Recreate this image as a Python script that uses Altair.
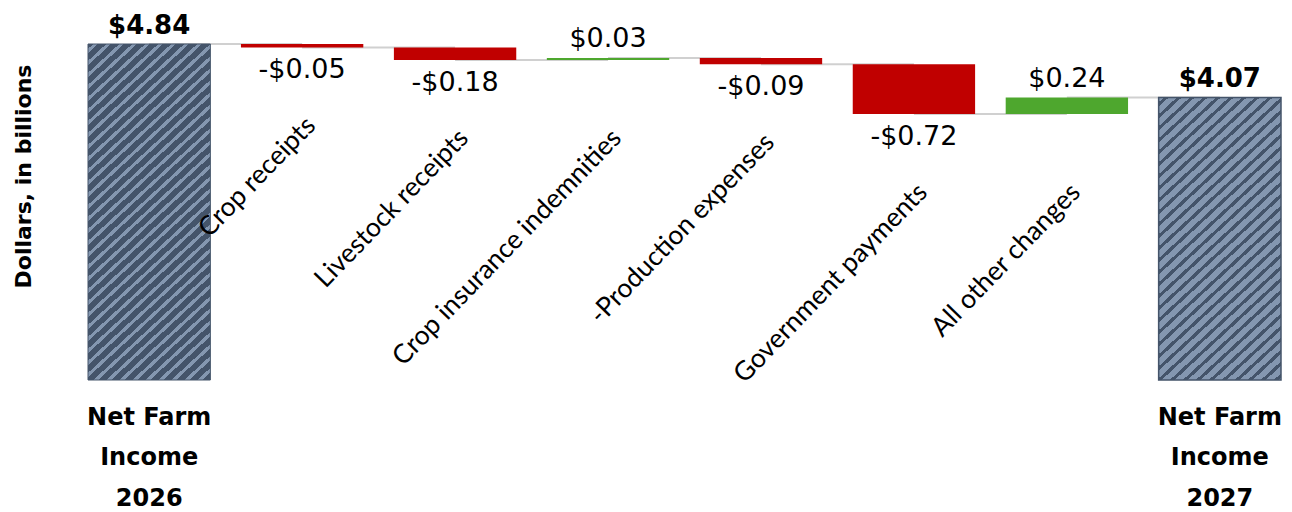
import math
import altair as alt
import pandas as pd

# ---------------- data ----------------
categories = [
    "Net Farm Income 2026",
    "Crop receipts",
    "Livestock receipts",
    "Crop insurance indemnities",
    "-Production expenses",
    "Government payments",
    "All other changes",
    "Net Farm Income 2027",
]
total_names = ["Net Farm\nIncome\n2026", "Net Farm\nIncome\n2027"]
start_total = 4.84
changes = [-0.05, -0.18, 0.03, -0.09, -0.72, 0.24]
end_total = 4.07

# ---------------- build table ----------------
rows = []
level = start_total
rows.append(dict(cat=categories[0], kind="total", start=0.0, end=start_total,
                 vlabel=f"${start_total:.2f}", name=total_names[0]))
for cat, d in zip(categories[1:-1], changes):
    s = level
    e = round(level + d, 2)
    rows.append(dict(cat=cat, kind="neg" if d < 0 else "pos", start=s, end=e,
                     vlabel=(f"-${abs(d):.2f}" if d < 0 else f"${d:.2f}"), name=cat))
    level = e
rows.append(dict(cat=categories[-1], kind="total", start=0.0, end=end_total,
                 vlabel=f"${end_total:.2f}", name=total_names[1]))
df = pd.DataFrame(rows)
df["lower"] = df[["start", "end"]].min(axis=1)

conn = pd.DataFrame([
    dict(cat=rows[i]["cat"], cat2=rows[i + 1]["cat"], lvl=rows[i]["end"])
    for i in range(len(rows) - 1)
])

# ---------------- layout constants ----------------
W, H = 1193, 380
YMAX = 5.474
PAD_IN = 0.2
band_w = W / (len(categories) - PAD_IN) * (1 - PAD_IN)

DARK = "#44546a"
LIGHT = "#8497b0"
RED = "#c00000"
GREEN = "#4ea72e"
FONT = "DejaVu Sans"


def hatch(value, bg, fg, px=13.0, py=12.0, frac=0.37):
    """Diagonal '///' stripes built as a hard-stop linear gradient."""
    h = value * H / YMAX
    w = band_w
    a, b = w / px, h / py
    denom = a * a + b * b
    nmax = a + b
    stops = [{"offset": 0, "color": bg}]
    i = 0
    while i + 0.4 + frac < nmax + 1:
        t0 = (i + 0.4) / denom
        t1 = (i + 0.4 + frac) / denom
        if t1 > 1:
            break
        stops += [{"offset": t0, "color": bg}, {"offset": t0, "color": fg},
                  {"offset": t1, "color": fg}, {"offset": t1, "color": bg}]
        i += 1
    stops.append({"offset": 1, "color": bg})
    return {"gradient": "linear", "x1": 0, "y1": 0, "x2": a, "y2": b, "stops": stops}


xscale = alt.Scale(domain=categories, paddingInner=PAD_IN, paddingOuter=0)
yscale = alt.Scale(domain=[0, YMAX], nice=False, zero=False)
yaxis = alt.Axis(title="Dollars, in billions", labels=False, ticks=False, domain=False,
                 grid=False, titleFont=FONT, titleFontSize=22, titleFontWeight="bold",
                 titleColor="black", titleAngle=270, titleBaseline="middle",
                 titleAlign="center", titleX=-65, titleY=176)


def X(field="cat"):
    return alt.X(f"{field}:N", sort=categories, scale=xscale, axis=None)


def Y(field):
    return alt.Y(f"{field}:Q", scale=yscale, axis=yaxis)


base = alt.Chart(df)

connectors = alt.Chart(conn).mark_rule(color="#d0d0d0", strokeWidth=2).encode(
    x=X("cat"), x2="cat2:N", y=Y("lvl"))

deltas = base.transform_filter(alt.datum.kind != "total").mark_bar().encode(
    x=X(), y=Y("start"), y2="end:Q",
    color=alt.Color("kind:N", scale=alt.Scale(domain=["neg", "pos"], range=[RED, GREEN]),
                    legend=None))

tot1 = base.transform_filter(alt.datum.cat == categories[0]).mark_bar(
    fill=hatch(start_total, DARK, LIGHT), stroke=DARK, strokeWidth=1).encode(
    x=X(), y=Y("start"), y2="end:Q")

tot2 = base.transform_filter(alt.datum.cat == categories[-1]).mark_bar(
    fill=hatch(end_total, LIGHT, DARK), stroke=DARK, strokeWidth=1.5).encode(
    x=X(), y=Y("start"), y2="end:Q")

lab_total = base.transform_filter(alt.datum.kind == "total").mark_text(
    font=FONT, fontSize=26, fontWeight="bold", color="black",
    baseline="alphabetic", dy=-10).encode(x=X(), y=Y("end"), text="vlabel:N")

lab_pos = base.transform_filter(alt.datum.kind == "pos").mark_text(
    font=FONT, fontSize=27, color="black", baseline="alphabetic", dy=-10.5).encode(
    x=X(), y=Y("end"), text="vlabel:N")

lab_neg = base.transform_filter(alt.datum.kind == "neg").mark_text(
    font=FONT, fontSize=27, color="black", baseline="top", dy=10).encode(
    x=X(), y=Y("end"), text="vlabel:N")

# rotated category labels (offset in screen px converted to rotated frame)
ang = -46.0
sx, sy = 9.0, 74.0
c, s = math.cos(math.radians(ang)), math.sin(math.radians(ang))
rdx = sx * c + sy * s
rdy = -sx * s + sy * c

lab_cat = base.transform_filter(alt.datum.kind != "total").mark_text(
    font="Lato", fontSize=26.5, color="black", align="right", baseline="middle",
    angle=360 + ang, dx=rdx, dy=rdy).encode(x=X(), y=Y("lower"), text="name:N")

lab_tot_name = base.transform_filter(alt.datum.kind == "total").mark_text(
    font=FONT, fontSize=24, fontWeight="bold", color="black", align="center",
    baseline="top", dy=25.5, lineBreak="\n", lineHeight=40.5).encode(
    x=X(), y=Y("start"), text="name:N")

chart = alt.layer(
    connectors, deltas, tot1, tot2, lab_total, lab_pos, lab_neg, lab_cat, lab_tot_name
).properties(
    width=W, height=H,
    padding={"left": 88, "top": 0, "right": 11, "bottom": 132},
    autosize=alt.AutoSizeParams(type="none"),
    background="white",
).configure_view(stroke=None)

chart.save("out.html", embed_options={"renderer": "svg", "actions": False})
